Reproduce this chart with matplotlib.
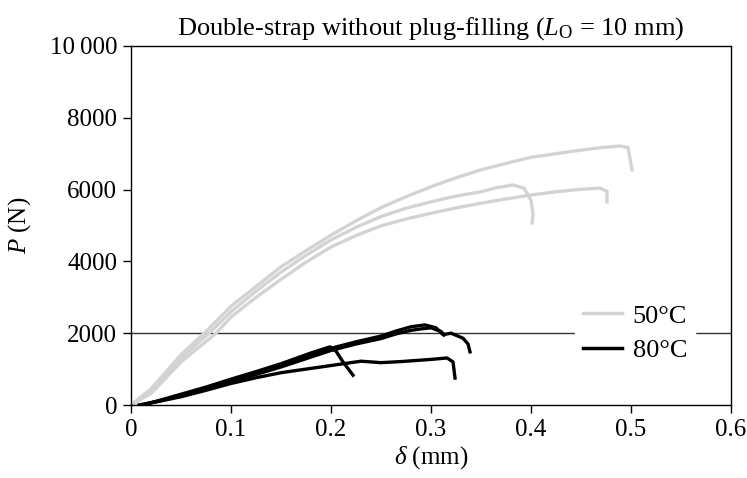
import numpy as np
import matplotlib
matplotlib.use("Agg")
import matplotlib.pyplot as plt

# ── data (delta in mm, P in N) ────────────────────────────────────────
d50_a = [0, 0.02, 0.05, 0.075, 0.1, 0.125, 0.15, 0.175, 0.2, 0.225, 0.25, 0.275, 0.3, 0.325,
         0.35, 0.375, 0.4, 0.425, 0.45, 0.47, 0.489, 0.497, 0.501]
p50_a = [0, 450, 1400, 2050, 2750, 3300, 3850, 4300, 4730, 5130, 5500, 5800, 6080, 6330,
         6550, 6730, 6900, 7000, 7100, 7170, 7215, 7170, 6550]

d50_b = [0, 0.02, 0.05, 0.08, 0.1, 0.125, 0.15, 0.175, 0.2, 0.225, 0.25, 0.275, 0.3, 0.325,
         0.35, 0.365, 0.382, 0.393, 0.4, 0.402, 0.401]
p50_b = [0, 380, 1300, 2050, 2600, 3170, 3700, 4170, 4600, 4950, 5250, 5480, 5660, 5820,
         5940, 6050, 6130, 6040, 5700, 5300, 5070]

d50_c = [0, 0.02, 0.05, 0.085, 0.1, 0.125, 0.15, 0.175, 0.2, 0.225, 0.25, 0.275, 0.3, 0.325,
         0.35, 0.375, 0.4, 0.425, 0.45, 0.469, 0.476, 0.476]
p50_c = [0, 320, 1200, 2000, 2450, 3000, 3500, 3980, 4400, 4720, 4990, 5180, 5340, 5490,
         5620, 5740, 5850, 5940, 6010, 6040, 5950, 5660]

d80_a = [0.008, 0.03, 0.05, 0.075, 0.1, 0.125, 0.15, 0.175, 0.2, 0.225, 0.25, 0.265, 0.28,
         0.294, 0.305, 0.312, 0.32, 0.332, 0.337, 0.339]
p80_a = [0, 120, 280, 470, 680, 890, 1100, 1340, 1580, 1760, 1920, 2060, 2180,
         2230, 2150, 1960, 2000, 1860, 1700, 1480]

d80_b = [0.01, 0.05, 0.075, 0.1, 0.125, 0.15, 0.175, 0.2, 0.225, 0.25, 0.265, 0.28, 0.29,
         0.3, 0.31, 0.313]
p80_b = [0, 250, 440, 640, 850, 1060, 1290, 1520, 1700, 1850, 1980, 2080, 2120,
         2150, 2050, 1950]

d80_c = [0.012, 0.05, 0.075, 0.1, 0.125, 0.15, 0.18, 0.199, 0.205, 0.212, 0.222]
p80_c = [0, 300, 500, 720, 930, 1150, 1450, 1620, 1500, 1200, 830]

d80_d = [0.01, 0.05, 0.075, 0.1, 0.125, 0.15, 0.17, 0.2, 0.23, 0.25, 0.27, 0.3, 0.316,
         0.322, 0.324]
p80_d = [0, 230, 410, 600, 760, 900, 980, 1100, 1220, 1180, 1210, 1270, 1310,
         1200, 750]

x_ticks = [0, 0.1, 0.2, 0.3, 0.4, 0.5, 0.6]
x_labels = ["0", "0.1", "0.2", "0.3", "0.4", "0.5", "0.6"]
y_ticks = [0, 2000, 4000, 6000, 8000, 10000]
y_labels = ["0", "2000", "4000", "6000", "8000", "10\u2009000"]

GREY = "#d3d3d3"
BLACK = "#000000"

plt.rcParams["font.family"] = ["Liberation Serif", "DejaVu Serif"]
plt.rcParams["mathtext.fontset"] = "custom"
plt.rcParams["mathtext.rm"] = "Liberation Serif"
plt.rcParams["mathtext.it"] = "Liberation Serif:italic"

fig = plt.figure(figsize=(7.47, 4.78), dpi=100)
ax = fig.add_axes([0.1754, 0.1527, 0.8032, 0.7511])

# the single grid line at 2000 N
ax.axhline(2000, color="#333333", lw=1.0, zorder=1)

lw = 2.4
for d, p in [(d50_a, p50_a), (d50_b, p50_b), (d50_c, p50_c)]:
    ax.plot(d, p, color=GREY, lw=lw, zorder=2)
for d, p in [(d80_a, p80_a), (d80_b, p80_b), (d80_c, p80_c), (d80_d, p80_d)]:
    ax.plot(d, p, color=BLACK, lw=lw, zorder=3)

# legend proxies
h50, = ax.plot([], [], color=GREY, lw=2.5, label="50°C")
h80, = ax.plot([], [], color=BLACK, lw=2.5, label="80°C")
leg = ax.legend(handles=[h50, h80], loc="center", bbox_to_anchor=(0.84, 0.2),
                frameon=True, fontsize=19, handlelength=1.5, handletextpad=0.4,
                labelspacing=0.42, borderpad=0.3, fancybox=False)
leg.get_frame().set_edgecolor("white")
leg.get_frame().set_facecolor("white")
leg.get_frame().set_alpha(1.0)
leg.set_zorder(5)

ax.set_xlim(0, 0.6)
ax.set_ylim(0, 10000)
ax.set_xticks(x_ticks)
ax.set_xticklabels(x_labels)
ax.set_yticks(y_ticks)
ax.set_yticklabels(y_labels)
ax.tick_params(direction="out", length=6, width=1, labelsize=18, pad=4)
for s in ax.spines.values():
    s.set_linewidth(1.0)

ax.set_xlabel(r"$\delta$ (mm)", fontsize=18, labelpad=2)
ax.set_ylabel(r"$P$ (N)", fontsize=18, labelpad=12)
ax.set_title(r"Double-strap without plug-filling ($L_{\mathrm{O}}$ = 10 mm)", fontsize=19, pad=8)

fig.savefig("out.png", dpi=100)
